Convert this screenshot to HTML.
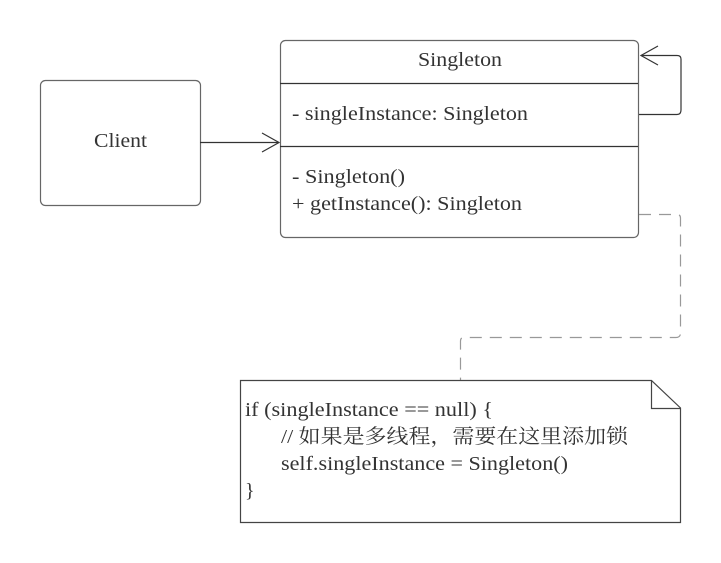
<!DOCTYPE html>
<html><head><meta charset="utf-8"><style>
html,body{margin:0;padding:0;background:#fff;width:721px;height:563px;overflow:hidden}
text{font-family:"Liberation Serif","Noto Serif CJK SC",serif;fill:#333;font-size:20px}
</style></head><body>
<svg width="721" height="563" viewBox="0 0 721 563" xmlns="http://www.w3.org/2000/svg">
<rect x="40.5" y="80.5" width="160" height="125" rx="5" fill="#fff" stroke="#666" stroke-width="1.2"/>
<text x="94" y="147" textLength="53" lengthAdjust="spacingAndGlyphs">Client</text>
<line x1="200" y1="142.5" x2="279" y2="142.5" stroke="#333" stroke-width="1.2"/>
<polyline points="262,133 279,142.5 262,152" fill="none" stroke="#333" stroke-width="1.2"/>
<rect x="280.5" y="40.5" width="358" height="197" rx="5" fill="#fff" stroke="#666" stroke-width="1.2"/>
<line x1="280" y1="83.5" x2="638" y2="83.5" stroke="#333" stroke-width="1.2"/>
<line x1="280" y1="146.5" x2="638" y2="146.5" stroke="#333" stroke-width="1.2"/>
<text x="418" y="66" textLength="84" lengthAdjust="spacingAndGlyphs">Singleton</text>
<text x="292" y="120" textLength="236" lengthAdjust="spacingAndGlyphs">- singleInstance: Singleton</text>
<text x="292" y="183" textLength="113" lengthAdjust="spacingAndGlyphs">- Singleton()</text>
<text x="292" y="210" textLength="230" lengthAdjust="spacingAndGlyphs">+ getInstance(): Singleton</text>
<path d="M639 114.5 H677 Q681 114.5 681 110 V59 Q681 55.5 677 55.5 H641" fill="none" stroke="#333" stroke-width="1.2"/>
<polyline points="658,46 641,55.5 658,65" fill="none" stroke="#333" stroke-width="1.2"/>
<path d="M639 214.5 H677 Q680.5 214.5 680.5 218 V333 Q680.5 337.5 676 337.5 H464 Q460.5 337.5 460.5 341 V380" fill="none" stroke="#999" stroke-width="1.2" stroke-dasharray="12,8"/>
<path d="M240.5 380.5 H651.5 L680.5 408 V522.5 H240.5 Z" fill="#fff" stroke="#444" stroke-width="1.2"/>
<path d="M651.5 380.5 V408.5 H680.5" fill="none" stroke="#444" stroke-width="1.2"/>
<text x="245" y="416" textLength="248" lengthAdjust="spacingAndGlyphs">if (singleInstance == null) {</text>
<text x="281" y="443" textLength="347" lengthAdjust="spacingAndGlyphs">// 如果是多线程，需要在这里添加锁</text>
<text x="281" y="470" textLength="287" lengthAdjust="spacingAndGlyphs">self.singleInstance = Singleton()</text>
<text x="245" y="497">}</text>
</svg>
</body></html>
